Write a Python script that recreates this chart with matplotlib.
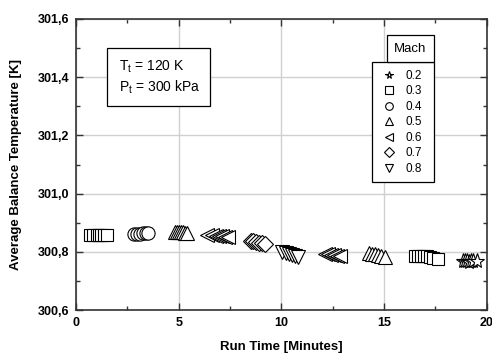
import matplotlib
matplotlib.use("Agg")
import matplotlib.pyplot as plt
from matplotlib.ticker import FuncFormatter, MultipleLocator
from matplotlib.lines import Line2D
from matplotlib.patches import Rectangle

plt.rcParams['font.family'] = ['Liberation Sans', 'DejaVu Sans']

mach_labels = ["0.2", "0.3", "0.4", "0.5", "0.6", "0.7", "0.8"]
mach_markers = {"0.2": "*", "0.3": "s", "0.4": "o", "0.5": "^", "0.6": "<", "0.7": "D", "0.8": "v"}

# run segments in chronological order: (Mach, run time [min], balance temperature [K])
seg1_t = [0.70, 0.85, 1.00, 1.10, 1.20, 1.35, 1.50]
seg1_T = [300.858, 300.858, 300.859, 300.859, 300.858, 300.858, 300.858]
seg2_t = [2.80, 2.95, 3.10, 3.25, 3.40, 3.50]
seg2_T = [300.861, 300.862, 300.862, 300.863, 300.863, 300.864]
seg3_t = [4.80, 4.90, 5.00, 5.10, 5.20, 5.30, 5.40]
seg3_T = [300.869, 300.869, 300.868, 300.868, 300.867, 300.866, 300.864]
seg4_t = [6.40, 6.60, 6.80, 6.95, 7.10, 7.25, 7.40]
seg4_T = [300.858, 300.857, 300.856, 300.855, 300.853, 300.852, 300.851]
seg5_t = [8.50, 8.60, 8.75, 8.90, 9.05, 9.20]
seg5_T = [300.838, 300.836, 300.834, 300.832, 300.830, 300.827]
seg6_t = [10.05, 10.20, 10.35, 10.50, 10.65, 10.80]
seg6_T = [300.800, 300.797, 300.793, 300.789, 300.785, 300.781]
seg7_t = [12.10, 12.25, 12.40, 12.55, 12.70, 12.85]
seg7_T = [300.792, 300.791, 300.790, 300.788, 300.786, 300.784]
seg8_t = [14.25, 14.40, 14.55, 14.70, 14.85, 15.05]
seg8_T = [300.795, 300.793, 300.791, 300.789, 300.786, 300.783]
seg9_t = [16.50, 16.65, 16.80, 16.95, 17.10, 17.25, 17.40, 17.60]
seg9_T = [300.785, 300.785, 300.785, 300.785, 300.784, 300.783, 300.779, 300.776]
seg10_t = [18.85, 18.95, 19.05, 19.15, 19.25, 19.35, 19.50]
seg10_T = [300.768, 300.767, 300.767, 300.766, 300.767, 300.768, 300.768]

segments = [
    ("0.3", seg1_t, seg1_T),
    ("0.4", seg2_t, seg2_T),
    ("0.5", seg3_t, seg3_T),
    ("0.6", seg4_t, seg4_T),
    ("0.7", seg5_t, seg5_T),
    ("0.8", seg6_t, seg6_T),
    ("0.6", seg7_t, seg7_T),
    ("0.5", seg8_t, seg8_T),
    ("0.3", seg9_t, seg9_T),
    ("0.2", seg10_t, seg10_T),
]

fig = plt.figure(figsize=(4.92, 3.58), dpi=100)
ax = fig.add_axes([0.1545, 0.134, 0.835, 0.813])

sizes = {"*": 11, "s": 9, "o": 9.5, "^": 9.5, "<": 9.5, "D": 8, "v": 9.5}
for mach, t, T in segments:
    m = mach_markers[mach]
    for ti, Ti in zip(t, T):
        ax.plot([ti], [Ti], linestyle="none", marker=m, markersize=sizes[m],
                markerfacecolor="white", markeredgecolor="black",
                markeredgewidth=0.8, zorder=3)

ax.set_xlim(0, 20)
ax.set_ylim(300.6, 301.6)
ax.xaxis.set_major_locator(MultipleLocator(5))
ax.xaxis.set_minor_locator(MultipleLocator(2.5))
ax.yaxis.set_major_locator(MultipleLocator(0.2))
ax.yaxis.set_minor_locator(MultipleLocator(0.1))
ax.yaxis.set_major_formatter(FuncFormatter(lambda v, p: f"{v:.1f}".replace(".", ",")))
ax.xaxis.set_major_formatter(FuncFormatter(lambda v, p: f"{v:.0f}"))

ax.grid(True, which="major", color="#d0d0d0", linewidth=1.0, zorder=0)
ax.set_axisbelow(True)
ax.tick_params(which="both", direction="in", top=True, right=True, colors="#333333",
               labelcolor="black", labelsize=9)
ax.tick_params(which="major", length=5, width=1.0, pad=5)
ax.tick_params(which="minor", length=3, width=1.0)
for lbl in ax.get_xticklabels() + ax.get_yticklabels():
    lbl.set_fontweight("bold")
for s in ax.spines.values():
    s.set_linewidth(1.2)
    s.set_color("#333333")

ax.set_xlabel("Run Time [Minutes]", fontsize=9.5, fontweight="bold", labelpad=9)
ax.set_ylabel("Average Balance Temperature [K]", fontsize=9.5, fontweight="bold", labelpad=11)

# condition box
ax.add_patch(Rectangle((0.075, 0.70), 0.251, 0.20, transform=ax.transAxes,
                       facecolor="white", edgecolor="black", linewidth=0.9, zorder=4))
ax.text(0.105, 0.80, "T$_\\mathregular{t}$ = 120 K\nP$_\\mathregular{t}$ = 300 kPa",
        transform=ax.transAxes, fontsize=10, va="center", ha="left", linespacing=1.3, zorder=5)

# Mach legend: frame, title box and entries
ax.add_patch(Rectangle((0.72, 0.44), 0.151, 0.412, transform=ax.transAxes,
                       facecolor="white", edgecolor="black", linewidth=0.9, zorder=4))
ax.add_patch(Rectangle((0.757, 0.852), 0.114, 0.093, transform=ax.transAxes,
                       facecolor="white", edgecolor="black", linewidth=0.9, zorder=4))
ax.text(0.814, 0.898, "Mach", transform=ax.transAxes, fontsize=9.5, ha="center", va="center",
        zorder=5)
handles = [Line2D([], [], linestyle="none", marker=mach_markers[m], markersize=5.5,
                  markerfacecolor="white", markeredgecolor="black", markeredgewidth=0.8)
           for m in mach_labels]
leg = ax.legend(handles, mach_labels, loc="center", bbox_to_anchor=(0.795, 0.645),
                frameon=False, fontsize=8.5, handlelength=1.0, handletextpad=0.9,
                labelspacing=0.3, borderpad=0, borderaxespad=0)
leg.set_zorder(6)

fig.savefig("out.png", dpi=100)
